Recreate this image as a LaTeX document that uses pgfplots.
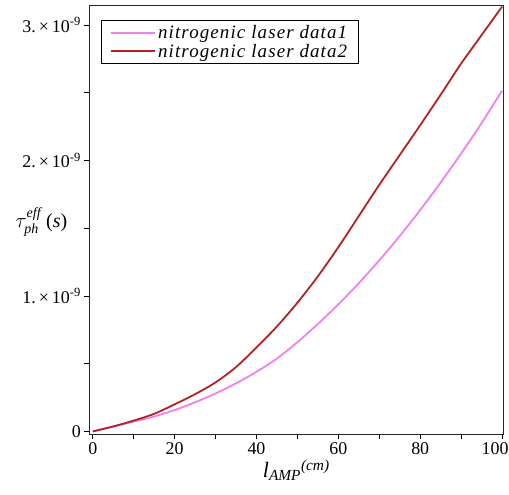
\documentclass[border=0pt]{standalone}
\usepackage{amsmath}
\usepackage{fontspec}
\setmainfont{Liberation Serif}
\newfontfamily\legfont[LetterSpace=6]{Liberation Serif}
\usepackage{pgfplots}
\usepackage{pgfplotstable}
\pgfplotsset{compat=1.18}
\definecolor{violetline}{HTML}{F080F0}
\definecolor{redline}{HTML}{B22222}

% data1 (violet) and data2 (dark red), tau in seconds
\pgfplotstableread{
x y
0 0
5 0.035e-9
10 0.073e-9
15 0.11e-9
20 0.158e-9
25 0.215e-9
30 0.28e-9
35 0.355e-9
40 0.44e-9
45 0.538e-9
50 0.659e-9
55 0.793e-9
60 0.938e-9
65 1.094e-9
70 1.263e-9
75 1.442e-9
80 1.634e-9
85 1.837e-9
90 2.051e-9
95 2.276e-9
100 2.515e-9
}\dataone

\pgfplotstableread{
x y
0 0
5 0.037e-9
10 0.08e-9
15 0.13e-9
20 0.2e-9
25 0.275e-9
30 0.362e-9
35 0.475e-9
40 0.62e-9
45 0.775e-9
50 0.95e-9
55 1.145e-9
60 1.36e-9
65 1.59e-9
70 1.82e-9
75 2.04e-9
80 2.26e-9
85 2.485e-9
90 2.715e-9
95 2.925e-9
100 3.135e-9
}\datatwo

\begin{document}
\begin{tikzpicture}
\begin{axis}[
  scale only axis,
  width=414bp, height=429bp,
  xmin=-0.85, xmax=100.3,
  ymin=-0.019e-9, ymax=3.147e-9,
  clip mode=individual,
  axis line style={black!85, line width=0.9pt},
  xtick={0,10,...,100},
  xticklabels={0,,20,,40,,60,,80,,{\hspace*{-14bp}100}},
  ytick={0,0.5e-9,1e-9,1.5e-9,2e-9,2.5e-9,3e-9},
  yticklabels={0,,{1.\,×\,10\textsuperscript{-9}},,{2.\,×\,10\textsuperscript{-9}},,{3.\,×\,10\textsuperscript{-9}}},
  scaled y ticks=false,
  xtick pos=bottom, ytick pos=left,
  tick align=outside,
  major tick length=5bp,
  tick style={black, line width=0.8pt},
  ticklabel style={font=\fontsize{18}{21}\selectfont},
  xlabel={$\textit{l}_{\textit{AMP}}{}^{\textit{(cm)}}$},
  xlabel style={font=\fontsize{22}{25}\selectfont, yshift=2bp},
  legend style={at={(0.028,0.965)}, anchor=north west, draw=black, line width=0.8pt,
    font=\legfont\itshape\fontsize{19}{22}\selectfont, inner xsep=9bp, inner ysep=3bp},
  legend image code/.code={\draw[#1] (0bp,0bp) -- (44bp,0bp);},
  legend cell align=left,
]
\addplot[violetline, line width=1.8pt, smooth] table[x=x, y=y] {\dataone};
\addlegendentry{nitrogenic laser data1}
\addplot[redline, line width=1.8pt, smooth] table[x=x, y=y] {\datatwo};
\addlegendentry{nitrogenic laser data2}
\node[anchor=east, font=\fontsize{20}{23}\selectfont] at (axis description cs:-0.045,0.494)
  {$\tau_{\textit{ph}}^{\textit{eff}}$ (\textit{s})};
\coordinate (bl) at (rel axis cs:0,0);
\coordinate (tr) at (rel axis cs:1,1);
\end{axis}
\pgfresetboundingbox
\path[use as bounding box] ([shift={(-89.3bp,-60.7bp)}]bl) rectangle ([shift={(5.7bp,5bp)}]tr);
\end{tikzpicture}
\end{document}
